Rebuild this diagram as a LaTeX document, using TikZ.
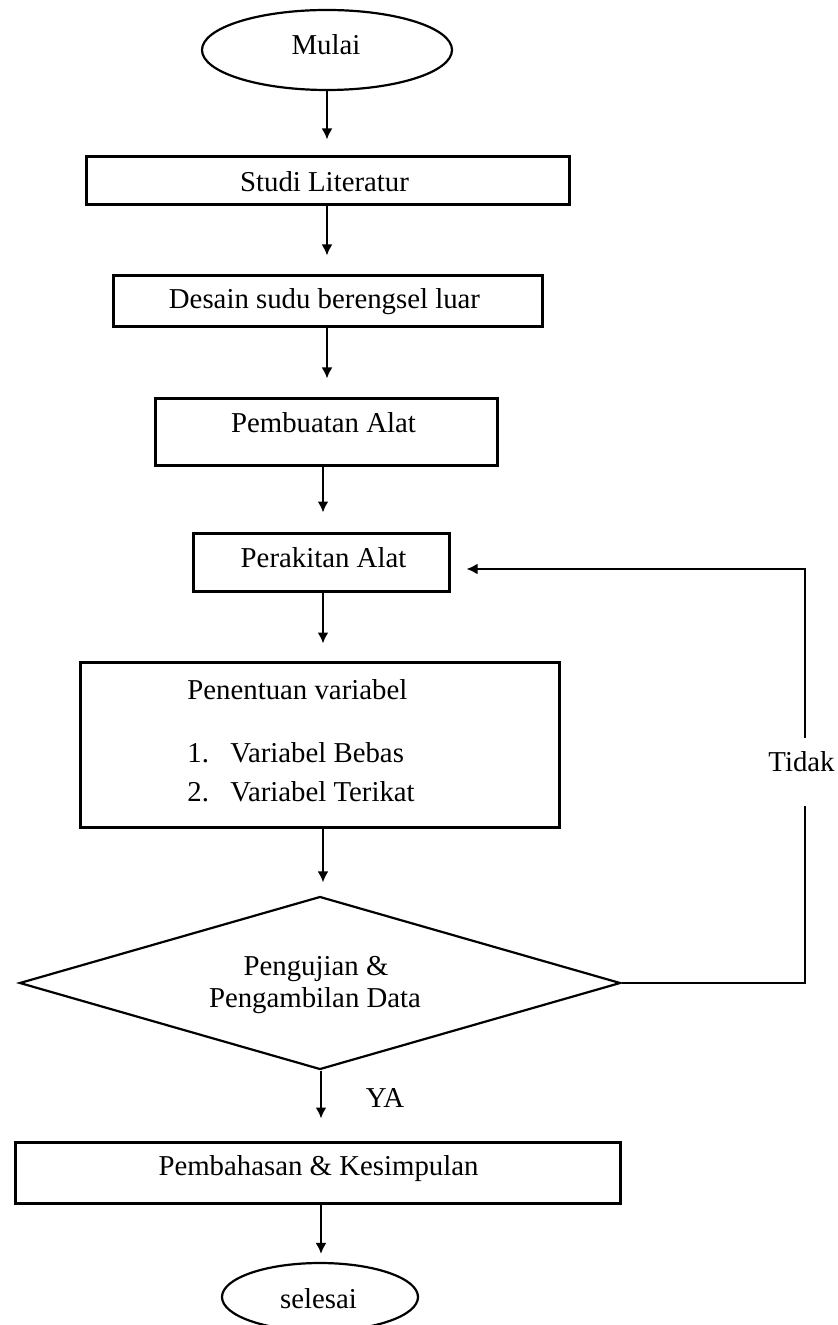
\documentclass[tikz,border=0pt]{standalone}
\usepackage{fontspec}
\setmainfont{Liberation Serif}
\usetikzlibrary{shapes.geometric,arrows.meta}
\begin{document}
\begin{tikzpicture}[x=0.5pt,y=-0.5pt,
  txt/.style={font=\fontsize{14.4}{17}\selectfont,inner sep=0pt,anchor=base},
  rbox/.style={draw,line width=1.5pt,rectangle,inner sep=0pt},
  oval/.style={draw,line width=1.1pt,ellipse,inner sep=0pt},
  decide/.style={draw,line width=1.1pt,diamond,inner sep=0pt},
  arr/.style={line width=1.3pt,-{Latex[length=5.5pt,width=5.5pt]}}]
\useasboundingbox (0,0) rectangle (838,1325);

% shapes
\node[oval,minimum width=125pt,minimum height=40pt] (mulai) at (327,50) {};
\node[rbox,minimum width=241.5pt,minimum height=24pt] (studi) at (327.5,181) {};
\node[rbox,minimum width=214.5pt,minimum height=25.5pt] (desain) at (327.5,301.5) {};
\node[rbox,minimum width=171pt,minimum height=33.5pt] (pembuatan) at (326,432.5) {};
\node[rbox,minimum width=128pt,minimum height=29pt] (perakitan) at (321,562) {};
\node[rbox,minimum width=239.5pt,minimum height=82.5pt] (penentuan) at (319.5,744.5) {};
\node[decide,minimum width=300.5pt,minimum height=86.5pt] (uji) at (320,983) {};
\node[rbox,minimum width=302.5pt,minimum height=30.5pt] (bahas) at (317.5,1172.5) {};
\node[oval,minimum width=98pt,minimum height=34pt] (selesai) at (320,1297) {};

% texts
\node[txt] (tmulai) at (326,55) {Mulai};
\node[txt] (tstudi) at (324.5,192) {Studi Literatur};
\node[txt] (tdesain) at (324.5,309) {Desain sudu berengsel luar};
\node[txt] (tpembuatan) at (323.5,433) {Pembuatan Alat};
\node[txt] (tperakitan) at (323.5,567) {Perakitan Alat};
\node[txt,anchor=base west] (tpenentuan) at (187,699) {Penentuan variabel};
\node[txt,anchor=base west] (n1) at (187,762) {1.};
\node[txt,anchor=base west] (v1) at (230,762) {Variabel Bebas};
\node[txt,anchor=base west] (n2) at (187,801) {2.};
\node[txt,anchor=base west] (v2) at (230,801) {Variabel Terikat};
\node[txt] (tuji1) at (316,975) {Pengujian \&};
\node[txt] (tuji2) at (315,1007) {Pengambilan Data};
\node[txt] (tbahas) at (318.5,1175) {Pembahasan \& Kesimpulan};
\node[txt] (tselesai) at (318.5,1308) {selesai};
\node[txt] (ya) at (385,1107) {YA};

% connectors
\draw[arr,shorten >=8pt] (mulai.south) -- (mulai.south |- studi.north);
\draw[arr,shorten >=9.5pt] ([xshift=-0.25pt]studi.south) -- ([xshift=-0.25pt]studi.south |- desain.north);
\draw[arr,shorten >=9.5pt] ([xshift=-0.25pt]desain.south) -- ([xshift=-0.25pt]desain.south |- pembuatan.north);
\draw[arr,shorten >=9.5pt] ([xshift=-1.5pt]pembuatan.south) -- ([xshift=-1.5pt]pembuatan.south |- perakitan.north);
\draw[arr,shorten >=8.5pt] ([xshift=1pt]perakitan.south) -- ([xshift=1pt]perakitan.south |- penentuan.north);
\draw[arr,shorten >=6.5pt] ([xshift=1.75pt]penentuan.south) -- ([xshift=1.75pt]penentuan.south |- uji.north);
\draw[arr,shorten >=11pt] ([xshift=0.5pt]uji.south) -- ([xshift=0.5pt]uji.south |- bahas.north);
\draw[arr,shorten >=4pt] ([xshift=1.75pt]bahas.south) -- ([xshift=1.75pt]bahas.south |- selesai.north);

\coordinate (fb1) at (805,983);
\coordinate (fb2) at (805,569);
\draw[arr,shorten >=8pt] (uji.east) -- (fb1) -- (fb2) -- (perakitan.east |- fb2);
\node[txt,anchor=base west,fill=white,text height=16.5pt,text depth=17.5pt] (tidak) at (768,771) {Tidak};
\end{tikzpicture}
\end{document}
